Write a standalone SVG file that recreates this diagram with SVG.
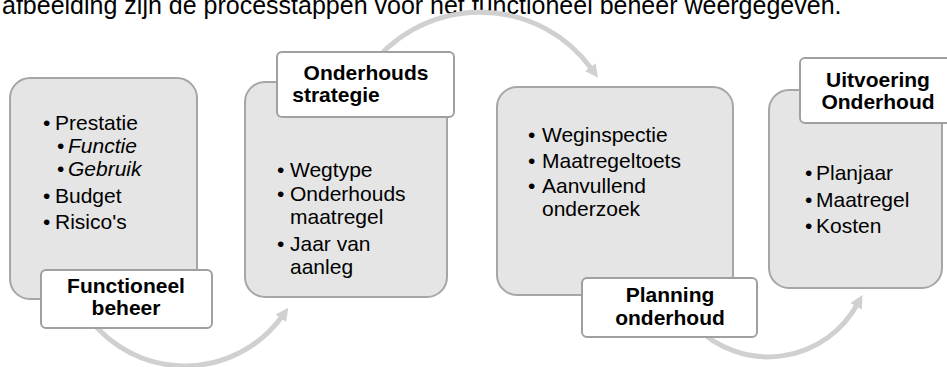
<svg xmlns="http://www.w3.org/2000/svg" width="947" height="367" viewBox="0 0 947 367">
<defs>
<style>
.box{fill:#e5e5e5;stroke:#a6a6a6;stroke-width:2}
.lbl{fill:#ffffff;stroke:#a0a0a0;stroke-width:2}
.arc{fill:none;stroke:#d0d0d0;stroke-width:5}
.t{font-family:"Liberation Sans",Arial,sans-serif;font-size:21px;fill:#000}
.b{font-family:"Liberation Sans",Arial,sans-serif;font-size:21px;font-weight:bold;fill:#000;text-anchor:middle}
.i{font-style:italic}
.top{font-family:"Liberation Sans",Arial,sans-serif;font-size:25px;fill:#000}
</style>
<marker id="ah" viewBox="0 0 12 12" refX="2" refY="6" markerWidth="13" markerHeight="13" markerUnits="userSpaceOnUse" orient="auto">
<path d="M0,0 L12,6 L0,12 z" fill="#d0d0d0"/>
</marker>
</defs>
<rect width="947" height="367" fill="#ffffff"/>
<text class="top" x="2" y="14">afbeelding zijn de processtappen voor het functioneel beheer weergegeven.</text>
<g id="connectors">
<path class="arc" d="M81 306 A120 120 0 0 0 282 316.5" marker-end="url(#ah)"/>
<path class="arc" d="M367 71 A138 138 0 0 1 591.6 68.9" marker-end="url(#ah)"/>
<path class="arc" d="M696 327 A102 102 0 0 0 857.2 304.5" marker-end="url(#ah)"/>
</g>
<g id="functioneel-beheer">
<rect class="box" x="10" y="78" width="187" height="221" rx="20"/>
<text class="t"><tspan x="43" y="130">•</tspan><tspan x="55" y="130">Prestatie</tspan></text>
<text class="t"><tspan x="57" y="153">•</tspan><tspan class="i" x="68" y="153">Functie</tspan></text>
<text class="t"><tspan x="57" y="176">•</tspan><tspan class="i" x="68" y="176">Gebruik</tspan></text>
<text class="t"><tspan x="43" y="203">•</tspan><tspan x="55" y="203">Budget</tspan></text>
<text class="t"><tspan x="43" y="229">•</tspan><tspan x="55" y="229">Risico's</tspan></text>
<rect class="lbl" x="41" y="270" width="171" height="58" rx="5"/>
<text class="b" x="126" y="293">Functioneel</text>
<text class="b" x="126" y="315">beheer</text>
</g>
<g id="onderhouds-strategie">
<rect class="box" x="245" y="82" width="202" height="215" rx="20"/>
<text class="t"><tspan x="277" y="177">•</tspan><tspan x="290" y="177">Wegtype</tspan></text>
<text class="t"><tspan x="277" y="201">•</tspan><tspan x="290" y="201">Onderhouds</tspan><tspan x="290" y="224">maatregel</tspan></text>
<text class="t"><tspan x="277" y="251">•</tspan><tspan x="290" y="251">Jaar van</tspan><tspan x="290" y="274">aanleg</tspan></text>
<rect class="lbl" x="277" y="52" width="177" height="65" rx="5"/>
<text class="b" x="366" y="80">Onderhouds</text>
<text class="b" x="336" y="102">strategie</text>
</g>
<g id="planning-onderhoud">
<rect class="box" x="497" y="87" width="236" height="208" rx="20"/>
<text class="t"><tspan x="528" y="142">•</tspan><tspan x="542" y="142">Weginspectie</tspan></text>
<text class="t"><tspan x="528" y="168">•</tspan><tspan x="542" y="168">Maatregeltoets</tspan></text>
<text class="t"><tspan x="528" y="193">•</tspan><tspan x="542" y="193">Aanvullend</tspan><tspan x="542" y="216">onderzoek</tspan></text>
<rect class="lbl" x="582" y="278" width="175" height="59" rx="5"/>
<text class="b" x="670" y="302">Planning</text>
<text class="b" x="670" y="325">onderhoud</text>
</g>
<g id="uitvoering-onderhoud">
<rect class="box" x="769" y="90" width="173" height="198" rx="20"/>
<text class="t"><tspan x="805" y="180">•</tspan><tspan x="816" y="180">Planjaar</tspan></text>
<text class="t"><tspan x="805" y="207">•</tspan><tspan x="816" y="207">Maatregel</tspan></text>
<text class="t"><tspan x="805" y="233">•</tspan><tspan x="816" y="233">Kosten</tspan></text>
<rect class="lbl" x="800" y="58" width="158" height="65" rx="5"/>
<text class="b" x="878" y="87">Uitvoering</text>
<text class="b" x="878" y="109">Onderhoud</text>
</g>
</svg>
